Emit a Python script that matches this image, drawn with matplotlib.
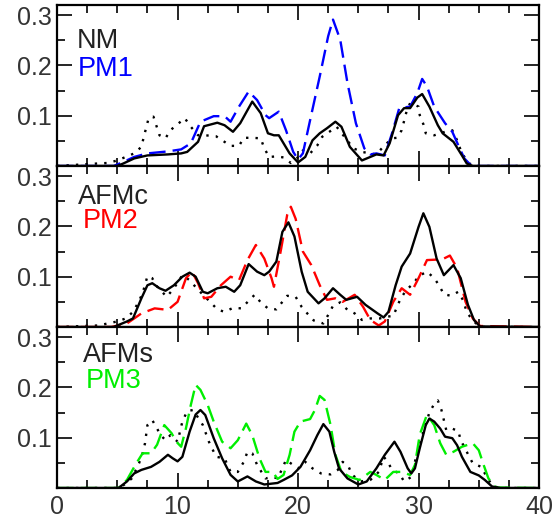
import numpy as np
import matplotlib
matplotlib.use("Agg")
import matplotlib.pyplot as plt
from matplotlib.ticker import MultipleLocator, FixedLocator

plt.rcParams["font.family"] = ["Liberation Sans", "DejaVu Sans"]

# panel 1: NM / PM1
nm_x = [0, 5, 5.5, 6.4, 7.5, 9.2, 10.3, 10.8, 11.7, 12.2, 13.3, 13.9, 14.6, 15.2, 16.2, 16.9, 17.5, 18.0,
        18.4, 19.3, 20.0, 20.6, 21.2, 21.8, 22.4, 23.1, 23.6, 24.3, 25.3, 26.0, 26.5, 27.1, 27.6, 28.3, 28.8,
        29.3, 29.9, 30.3, 30.9, 31.6, 32.0, 32.9, 33.6, 34.0, 34.5, 40]
nm_y = [0, 0, 0.005, 0.015, 0.021, 0.023, 0.025, 0.028, 0.048, 0.079, 0.086, 0.081, 0.068, 0.085, 0.128,
        0.105, 0.065, 0.061, 0.061, 0.025, 0.007, 0.018, 0.051, 0.065, 0.075, 0.088, 0.078, 0.038, 0.011,
        0.018, 0.023, 0.021, 0.045, 0.101, 0.115, 0.115, 0.136, 0.143, 0.118, 0.081, 0.065, 0.048, 0.021,
        0.005, 0, 0]
pm1_x = [0, 4.7, 5.5, 6.4, 7.5, 9.2, 10.3, 11.1, 11.9, 13.0, 13.9, 14.4, 15.1, 15.9, 16.6, 17.3, 17.6, 18.4,
         19.0, 19.6, 20.0, 20.4, 21.0, 21.8, 22.5, 22.9, 23.5, 24.1, 24.8, 25.5, 26.0, 26.5, 27.2, 27.8, 28.4,
         29.3, 29.9, 30.3, 30.7, 31.3, 32.2, 32.8, 33.3, 33.8, 34.4, 40]
pm1_y = [0, 0, 0.008, 0.018, 0.025, 0.029, 0.033, 0.045, 0.088, 0.099, 0.099, 0.088, 0.118, 0.148, 0.131,
         0.101, 0.095, 0.108, 0.071, 0.028, 0.013, 0.025, 0.091, 0.178, 0.258, 0.291, 0.251, 0.165, 0.085,
         0.035, 0.023, 0.025, 0.021, 0.065, 0.115, 0.118, 0.145, 0.173, 0.158, 0.118, 0.085, 0.068, 0.041,
         0.015, 0, 0]
dot1_x = [0, 3.4, 4.2, 5.0, 5.7, 6.4, 7.0, 7.2, 7.6, 8.0, 8.5, 9.0, 9.4, 10.0, 10.6, 11.1, 11.7, 12.3, 13.2,
          14.4, 15.1, 15.5, 16.2, 16.9, 17.2, 17.6, 18.2, 18.8, 19.4, 19.9, 20.4, 21.0, 21.6, 22.0, 23.2, 24.6,
          25.3, 26.0, 26.5, 27.1, 27.8, 28.2, 28.6, 29.0, 29.3, 30.0, 30.1, 30.4, 30.6, 31.3, 32.2, 32.8, 33.2,
          33.6, 34.2, 34.8, 40]
dot1_y = [0, 0.005, 0.006, 0.011, 0.018, 0.025, 0.038, 0.058, 0.095, 0.098, 0.061, 0.055, 0.071, 0.083,
          0.095, 0.078, 0.061, 0.061, 0.059, 0.040, 0.040, 0.056, 0.056, 0.055, 0.035, 0.018, 0.019, 0.017,
          0.006, 0.015, 0.031, 0.025, 0.041, 0.058, 0.078, 0.035, 0.028, 0.025, 0.023, 0.039, 0.055, 0.056,
          0.071, 0.108, 0.125, 0.118, 0.101, 0.083, 0.065, 0.061, 0.068, 0.071, 0.051, 0.025, 0.005, 0, 0]

# panel 2: AFMc / PM2
afmc_x = [0, 4.7, 5.8, 6.3, 7.0, 7.5, 7.9, 8.5, 9.0, 9.7, 10.4, 11.0, 11.5, 12.1, 12.5, 13.3, 14.0, 14.7,
          15.2, 15.9, 16.6, 17.2, 17.6, 18.2, 18.7, 19.2, 19.7, 20.3, 20.8, 21.7, 22.2, 22.9, 23.5, 24.0, 24.9,
          25.6, 26.6, 27.1, 27.5, 28.1, 28.6, 29.3, 30.0, 30.4, 30.9, 31.5, 32.1, 32.5, 32.9, 33.5, 34.1, 34.6,
          35.1, 40]
afmc_y = [0, 0, 0.011, 0.017, 0.057, 0.083, 0.087, 0.077, 0.072, 0.083, 0.100, 0.108, 0.100, 0.070, 0.067,
          0.077, 0.080, 0.070, 0.083, 0.125, 0.110, 0.103, 0.110, 0.130, 0.189, 0.208, 0.180, 0.110, 0.070,
          0.047, 0.057, 0.077, 0.064, 0.054, 0.060, 0.044, 0.027, 0.019, 0.030, 0.083, 0.120, 0.146, 0.199,
          0.226, 0.199, 0.136, 0.103, 0.113, 0.123, 0.097, 0.044, 0.014, 0.001, 0]
pm2_x = [0, 4.5, 5.8, 7.0, 8.1, 9.2, 10.0, 10.7, 11.2, 11.7, 12.2, 12.8, 13.6, 14.4, 15.1, 15.8, 16.5, 17.2,
         17.8, 18.0, 18.6, 19.1, 19.4, 19.8, 20.4, 21.1, 21.8, 22.4, 23.1, 23.7, 24.7, 25.4, 26.0, 26.7, 27.2,
         27.9, 28.6, 29.3, 30.0, 30.7, 31.6, 32.1, 32.6, 33.2, 33.9, 34.5, 35.1, 40]
pm2_y = [0, 0, 0.007, 0.027, 0.037, 0.034, 0.050, 0.097, 0.110, 0.087, 0.057, 0.060, 0.083, 0.100, 0.093,
         0.133, 0.163, 0.136, 0.097, 0.080, 0.156, 0.223, 0.239, 0.215, 0.150, 0.123, 0.083, 0.054, 0.057,
         0.050, 0.064, 0.040, 0.014, 0.003, 0.011, 0.050, 0.077, 0.064, 0.097, 0.133, 0.134, 0.136, 0.142,
         0.117, 0.050, 0.017, 0.002, 0]
dot2_x = [0, 3.4, 4.2, 5.0, 5.7, 6.3, 6.7, 7.1, 7.5, 7.9, 8.2, 9.1, 9.7, 10.4, 11.0, 11.7, 12.2, 12.7, 13.3,
          13.9, 14.6, 15.3, 15.9, 16.4, 16.9, 17.5, 18.2, 18.6, 19.1, 19.8, 20.3, 20.8, 21.3, 22.1, 22.5, 22.9,
          23.5, 24.1, 24.7, 25.3, 26.0, 26.8, 27.2, 27.9, 28.5, 29.0, 29.6, 30.0, 30.7, 31.3, 31.7, 32.1, 32.7,
          33.3, 33.7, 34.0, 34.4, 34.9, 35.3, 40]
dot2_y = [0, 0.003, 0.007, 0.011, 0.017, 0.030, 0.047, 0.067, 0.101, 0.097, 0.083, 0.060, 0.077, 0.103,
          0.093, 0.074, 0.062, 0.050, 0.035, 0.030, 0.038, 0.037, 0.052, 0.064, 0.049, 0.037, 0.035, 0.047,
          0.062, 0.060, 0.040, 0.026, 0.013, 0.007, 0.024, 0.042, 0.049, 0.034, 0.027, 0.014, 0.017, 0.017,
          0.020, 0.022, 0.056, 0.074, 0.087, 0.101, 0.110, 0.097, 0.083, 0.065, 0.062, 0.070, 0.053, 0.030,
          0.016, 0.004, 0, 0]

# panel 3: AFMs / PM3
afms_x = [0, 5.1, 5.8, 6.4, 7.0, 7.8, 8.5, 9.2, 9.6, 10.0, 10.4, 11.0, 11.5, 11.9, 12.3, 13.0, 13.7, 14.4,
          15.0, 15.8, 16.5, 17.2, 18.3, 18.8, 19.5, 20.2, 21.0, 21.6, 22.1, 22.6, 23.0, 23.4, 24.1, 25.0, 25.7,
          26.5, 27.2, 28.0, 28.5, 29.1, 29.4, 29.7, 30.1, 30.6, 30.9, 31.3, 31.8, 32.2, 32.8, 33.2, 33.6, 34.3,
          35.0, 35.5, 36.1, 36.8, 40]
afms_y = [0, 0, 0.013, 0.029, 0.036, 0.042, 0.052, 0.066, 0.059, 0.053, 0.062, 0.112, 0.146, 0.155, 0.145,
          0.099, 0.059, 0.026, 0.013, 0.023, 0.013, 0.007, 0.010, 0.016, 0.025, 0.042, 0.075, 0.105, 0.127,
          0.112, 0.072, 0.039, 0.019, 0.007, 0.013, 0.039, 0.066, 0.092, 0.072, 0.039, 0.029, 0.039, 0.079,
          0.125, 0.138, 0.132, 0.118, 0.102, 0.099, 0.085, 0.062, 0.032, 0.025, 0.016, 0.003, 0, 0]
pm3_x = [0, 5.1, 5.8, 6.5, 7.1, 7.8, 8.3, 8.9, 9.5, 9.9, 10.3, 10.7, 11.1, 11.5, 11.9, 12.5, 13.0, 13.7, 14.4,
         15.0, 15.7, 16.2, 16.8, 17.3, 17.9, 18.3, 18.8, 19.3, 19.7, 20.2, 21.0, 21.4, 21.8, 22.2, 22.7, 23.1,
         23.6, 24.3, 25.1, 26.0, 26.5, 27.2, 27.9, 28.6, 29.3, 29.7, 30.1, 30.7, 31.3, 31.8, 32.3, 32.9, 33.6,
         34.5, 35.0, 35.4, 35.8, 36.4, 40]
pm3_y = [0, 0, 0.016, 0.046, 0.069, 0.069, 0.086, 0.125, 0.109, 0.092, 0.082, 0.119, 0.165, 0.205, 0.195,
         0.165, 0.132, 0.092, 0.079, 0.095, 0.128, 0.105, 0.059, 0.032, 0.032, 0.018, 0.026, 0.066, 0.112,
         0.132, 0.137, 0.155, 0.183, 0.175, 0.125, 0.066, 0.032, 0.022, 0.016, 0.032, 0.026, 0.016, 0.032,
         0.032, 0.026, 0.046, 0.106, 0.146, 0.125, 0.089, 0.066, 0.072, 0.082, 0.089, 0.075, 0.046, 0.019,
         0.001, 0]
dot3_x = [0, 5.0, 5.6, 6.2, 6.8, 7.1, 7.3, 7.5, 7.9, 8.3, 8.6, 9.0, 9.4, 9.7, 10.0, 10.4, 10.8, 11.3, 12.1,
          12.6, 13.2, 13.9, 14.4, 15.0, 15.5, 15.8, 16.2, 16.6, 17.3, 17.9, 18.3, 18.7, 19.0, 19.4, 20.0, 20.6,
          21.2, 21.9, 22.7, 23.3, 23.7, 24.2, 24.5, 25.2, 26.0, 26.7, 27.1, 27.4, 27.8, 28.4, 28.8, 29.4, 29.9,
          30.5, 30.9, 31.3, 31.6, 31.9, 32.1, 32.3, 32.8, 33.3, 33.5, 34.0, 34.5, 35.2, 35.5, 35.9, 36.3, 36.8,
          40]
dot3_y = [0, 0, 0.007, 0.019, 0.049, 0.069, 0.089, 0.125, 0.135, 0.118, 0.105, 0.095, 0.105, 0.099, 0.092,
          0.132, 0.153, 0.155, 0.125, 0.092, 0.062, 0.059, 0.032, 0.032, 0.052, 0.072, 0.069, 0.046, 0.019,
          0.022, 0.019, 0.039, 0.056, 0.049, 0.039, 0.052, 0.039, 0.029, 0.027, 0.036, 0.052, 0.042, 0.026,
          0.013, 0.016, 0.032, 0.062, 0.054, 0.036, 0.029, 0.013, 0.022, 0.072, 0.119, 0.150, 0.167, 0.174,
          0.155, 0.135, 0.115, 0.118, 0.113, 0.095, 0.072, 0.049, 0.042, 0.029, 0.013, 0.003, 0, 0]

panels = [
    (nm_x, nm_y, pm1_x, pm1_y, dot1_x, dot1_y, "NM", "PM1", "#0000ff", (0.041, 0.733), (0.043, 0.559)),
    (afmc_x, afmc_y, pm2_x, pm2_y, dot2_x, dot2_y, "AFMc", "PM2", "#ff0000", (0.044, 0.764), (0.054, 0.615)),
    (afms_x, afms_y, pm3_x, pm3_y, dot3_x, dot3_y, "AFMs", "PM3", "#00ee00", (0.054, 0.783), (0.060, 0.621)),
]

fig, axes = plt.subplots(3, 1, figsize=(5.54, 5.24), dpi=100, sharex=True)
fig.subplots_adjust(left=0.103, right=0.973, top=0.9905, bottom=0.0687, hspace=0)

for ax, (sx, sy, dx, dy, ox, oy, lab1, lab2, col, p1, p2) in zip(axes, panels):
    ax.plot(ox, oy, color="black", lw=1.7, linestyle=(0, (1, 3)))
    ax.plot(dx, dy, color=col, lw=1.7, linestyle=(0, (7, 3)))
    ax.plot(sx, sy, color="black", lw=1.7)
    ax.text(p1[0], p1[1], lab1, transform=ax.transAxes, fontsize=19.5, color="#222222", va="baseline")
    ax.text(p2[0], p2[1], lab2, transform=ax.transAxes, fontsize=19.5, color=col, va="baseline")

    ax.set_xlim(0, 40)
    ax.set_ylim(0, 0.32)
    ax.xaxis.set_major_locator(MultipleLocator(10))
    ax.xaxis.set_minor_locator(MultipleLocator(2.5))
    ax.yaxis.set_major_locator(FixedLocator([0.1, 0.2, 0.3]))
    ax.yaxis.set_minor_locator(MultipleLocator(0.05))
    ax.set_yticklabels(["0.1", "0.2", "0.3"])
    ax.tick_params(which="both", direction="in", top=True, right=True, width=1.2,
                   labelsize=18, labelcolor="#333333")
    ax.tick_params(which="major", length=11)
    ax.tick_params(which="minor", length=6)
    ax.tick_params(axis="y", pad=4)
    ax.tick_params(axis="x", pad=5)
    for s in ax.spines.values():
        s.set_linewidth(1.6)

plt.savefig("out.png", dpi=100)
